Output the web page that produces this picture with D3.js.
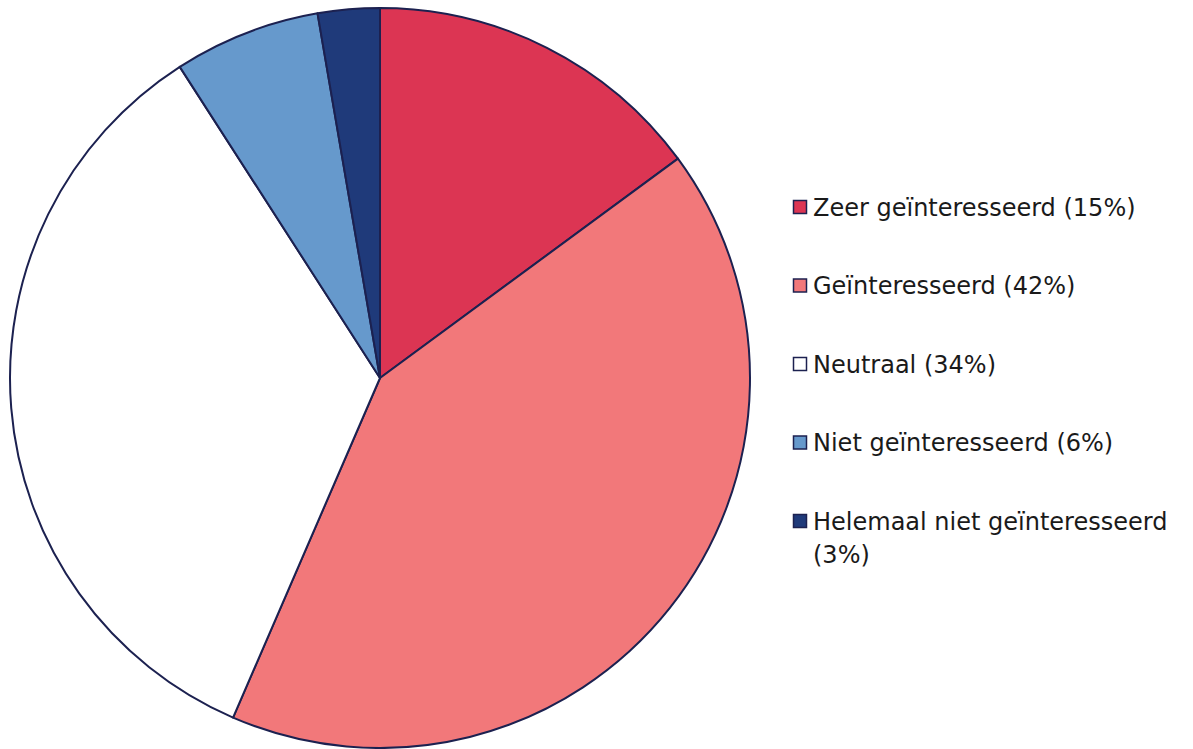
<!DOCTYPE html>
<html>
<head>
<meta charset="utf-8">
<script src="https://cdn.jsdelivr.net/npm/d3@7"></script>
<style>
  body { margin: 0; background: #fff; }
  text { font-family: 'DejaVu Sans', sans-serif; }
</style>
</head>
<body>
<svg width="1193" height="749"></svg>
<script>
var labels = ['Zeer geïnteresseerd (15%)', 'Geïnteresseerd (42%)', 'Neutraal (34%)', 'Niet geïnteresseerd (6%)', 'Helemaal niet geïnteresseerd (3%)'];
// slice sizes (labels show the rounded numbers)
var values = [14.9, 41.6, 34.4, 6.4, 2.7];
var colors = ['#dc3553', '#f2787a', '#ffffff', '#6699cc', '#1f3a7a'];

var svg = d3.select('svg');
var cx = 380, cy = 378, radius = 370;
var stroke = '#1c2150';

var pie = d3.pie().sort(null).value(function(d) { return d; });
var arc = d3.arc().innerRadius(0).outerRadius(radius);

svg.append('g')
  .attr('transform', 'translate(' + cx + ',' + cy + ')')
  .selectAll('path')
  .data(pie(values))
  .enter()
  .append('path')
  .attr('d', arc)
  .attr('fill', function(d, i) { return colors[i]; })
  .attr('stroke', stroke)
  .attr('stroke-width', 2)
  .attr('stroke-linejoin', 'round');

// legend
var y = d3.scalePoint().domain(d3.range(labels.length)).range([207, 521]);
var legend = svg.append('g').selectAll('g')
  .data(labels)
  .enter()
  .append('g')
  .attr('transform', function(d, i) { return 'translate(793,' + y(i) + ')'; });

legend.append('rect')
  .attr('x', 0.5).attr('y', -6.5)
  .attr('width', 13).attr('height', 13)
  .attr('fill', function(d, i) { return colors[i]; })
  .attr('stroke', stroke)
  .attr('stroke-width', 1.5);

legend.append('text')
  .attr('x', 20)
  .attr('font-size', 24)
  .attr('fill', '#1a1a1a')
  .each(function(d) {
    var t = d3.select(this);
    var parts = d.indexOf('Helemaal') === 0 ? ['Helemaal niet geïnteresseerd', '(3%)'] : [d];
    parts.forEach(function(p, k) {
      t.append('tspan').attr('x', 20).attr('dy', k === 0 ? '0.36em' : 33).text(p);
    });
  });
</script>
</body>
</html>
